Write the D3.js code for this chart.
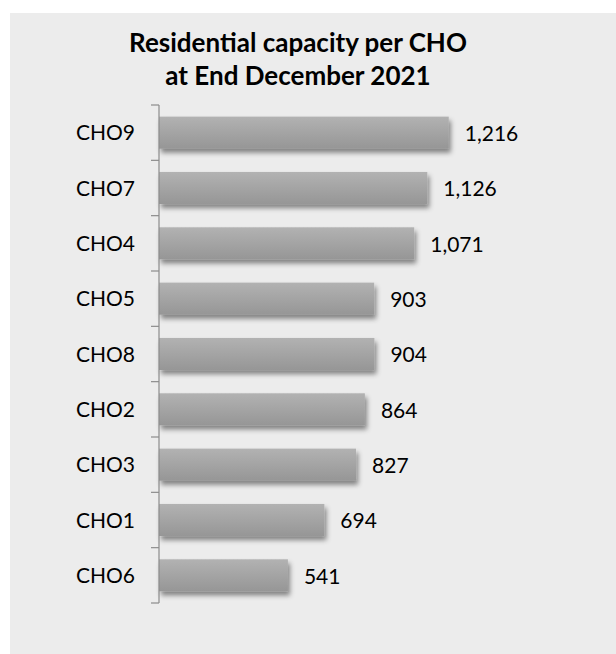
<!DOCTYPE html>
<html>
<head>
<meta charset="utf-8">
<script src="https://cdn.jsdelivr.net/npm/d3@7"></script>
<style>
  body { margin: 0; background: #fff; }
  text { font-family: Lato, "Open Sans", sans-serif; fill: #000; }
</style>
</head>
<body>
<script>
const categories = ["CHO9", "CHO7", "CHO4", "CHO5", "CHO8", "CHO2", "CHO3", "CHO1", "CHO6"];
const values = [1216, 1126, 1071, 903, 904, 864, 827, 694, 541];
const titleLines = ["Residential capacity per CHO", "at End December 2021"];

const width = 616, height = 654;
const svg = d3.select("body").append("svg")
  .attr("width", width)
  .attr("height", height);

// panel background
svg.append("rect")
  .attr("x", 10).attr("y", 13)
  .attr("width", width - 10).attr("height", height - 13)
  .attr("fill", "#ececec");

const defs = svg.append("defs");
const grad = defs.append("linearGradient")
  .attr("id", "barGrad")
  .attr("x1", 0).attr("y1", 0).attr("x2", 0).attr("y2", 1);
grad.append("stop").attr("offset", "0%").attr("stop-color", "#b2b2b2");
grad.append("stop").attr("offset", "100%").attr("stop-color", "#969696");

const shadow = defs.append("filter")
  .attr("id", "shadow")
  .attr("x", "-10%").attr("y", "-20%")
  .attr("width", "130%").attr("height", "170%");
shadow.append("feDropShadow")
  .attr("dx", 2).attr("dy", 4)
  .attr("stdDeviation", 2.5)
  .attr("flood-color", "#000")
  .attr("flood-opacity", 0.45);

const x0 = 159;
const xScale = d3.scaleLinear()
  .domain([0, 1400])
  .range([x0, x0 + 333.6]);

const yScale = d3.scaleBand()
  .domain(categories)
  .range([105, 603])
  .paddingInner(0.42)
  .paddingOuter(0.21);

// title
svg.append("g")
  .selectAll("text")
  .data(titleLines)
  .join("text")
  .attr("x", 298)
  .attr("y", (d, i) => 52 + i * 33)
  .attr("text-anchor", "middle")
  .attr("font-size", 26)
  .attr("font-weight", "bold")
  .text(d => d);

// bars
svg.append("g")
  .selectAll("rect")
  .data(values)
  .join("rect")
  .attr("x", x0)
  .attr("y", (d, i) => yScale(categories[i]))
  .attr("width", d => xScale(d) - x0)
  .attr("height", yScale.bandwidth())
  .attr("fill", "url(#barGrad)")
  .attr("filter", "url(#shadow)");

// axis line and boundary ticks
const step = yScale.step();
const bounds = d3.range(categories.length + 1).map(i => 105 + i * step);
const axis = svg.append("g").attr("stroke", "#8c8c8c").attr("stroke-width", 1.2);
axis.append("line")
  .attr("x1", x0).attr("x2", x0)
  .attr("y1", 105).attr("y2", 603);
axis.selectAll("line.tick")
  .data(bounds)
  .join("line")
  .attr("class", "tick")
  .attr("x1", x0 - 8).attr("x2", x0)
  .attr("y1", d => d).attr("y2", d => d);

// category labels
svg.append("g")
  .selectAll("text")
  .data(categories)
  .join("text")
  .attr("x", 135)
  .attr("y", d => yScale(d) + yScale.bandwidth() / 2)
  .attr("dy", "0.36em")
  .attr("text-anchor", "end")
  .attr("font-size", 21)
  .text(d => d);

// value labels
svg.append("g")
  .selectAll("text")
  .data(values)
  .join("text")
  .attr("x", d => xScale(d) + 16)
  .attr("y", (d, i) => yScale(categories[i]) + yScale.bandwidth() / 2)
  .attr("dy", "0.4em")
  .attr("font-size", 21)
  .text(d => d3.format(",")(d));
</script>
</body>
</html>
